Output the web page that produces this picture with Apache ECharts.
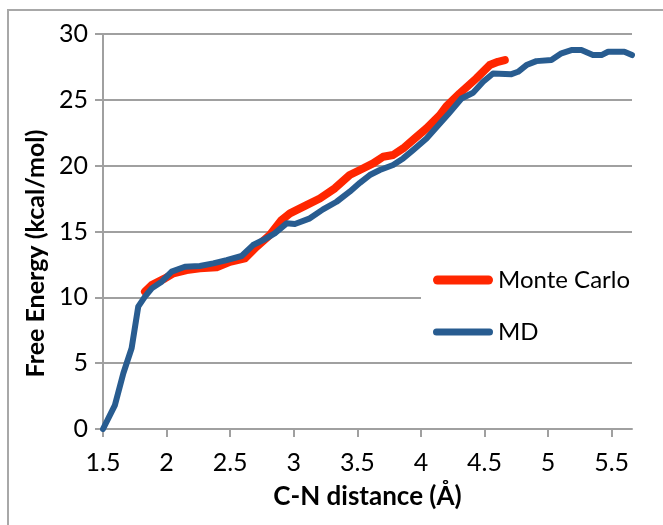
<!DOCTYPE html>
<html>
<head>
<meta charset="utf-8">
<script src="https://cdn.jsdelivr.net/npm/echarts@6/dist/echarts.min.js"></script>
<style>
  html, body { margin: 0; padding: 0; background: #ffffff; }
  #chart { width: 663px; height: 525px; }
</style>
</head>
<body>
<div id="chart"></div>
<script>
// ---- data ----
const xTicks = [1.5, 2, 2.5, 3, 3.5, 4, 4.5, 5, 5.5];
const yTicks = [0, 5, 10, 15, 20, 25, 30];

const mdX = [1.5, 1.594, 1.66, 1.725, 1.777, 1.83, 1.883, 1.961, 2.04, 2.144, 2.262, 2.367, 2.472, 2.59, 2.68, 2.76, 2.85, 2.944, 3.009, 3.127, 3.23, 3.337, 3.44, 3.52, 3.598, 3.677, 3.781, 3.86, 3.938, 4.044, 4.149, 4.214, 4.319, 4.41, 4.489, 4.567, 4.712, 4.764, 4.83, 4.908, 5.026, 5.105, 5.183, 5.262, 5.353, 5.42, 5.472, 5.6, 5.66];
const mdY = [0, 1.82, 4.23, 6.13, 9.29, 10.05, 10.68, 11.19, 11.95, 12.32, 12.38, 12.58, 12.83, 13.14, 13.97, 14.35, 14.86, 15.62, 15.57, 16.0, 16.68, 17.26, 18.02, 18.7, 19.29, 19.67, 20.05, 20.55, 21.18, 22.07, 23.2, 23.9, 25.1, 25.54, 26.37, 27.0, 26.95, 27.13, 27.64, 27.94, 28.02, 28.53, 28.78, 28.78, 28.4, 28.4, 28.65, 28.65, 28.4];

const mcX = [1.83, 1.883, 1.987, 2.053, 2.158, 2.262, 2.393, 2.498, 2.616, 2.708, 2.812, 2.904, 2.97, 3.1, 3.205, 3.323, 3.44, 3.52, 3.624, 3.703, 3.781, 3.86, 3.952, 4.044, 4.149, 4.2, 4.305, 4.436, 4.541, 4.606, 4.66];
const mcY = [10.43, 10.93, 11.44, 11.82, 12.07, 12.2, 12.28, 12.7, 12.96, 13.84, 14.73, 15.87, 16.38, 17.0, 17.51, 18.28, 19.29, 19.67, 20.17, 20.68, 20.81, 21.31, 22.07, 22.83, 23.84, 24.5, 25.49, 26.63, 27.64, 27.89, 28.02];

const seriesNames = ['Monte Carlo', 'MD'];
const xTitle = 'C-N distance (Å)';
const yTitle = 'Free Energy (kcal/mol)';

// ---- build ----
const zip = (xs, ys) => xs.map((x, i) => [x, ys[i]]);
const FONT = 'Lato';
const GRID_C = '#A0A0A0';

const chart = echarts.init(document.getElementById('chart'), null, { renderer: 'canvas' });
chart.setOption({
  animation: false,
  backgroundColor: '#ffffff',
  graphic: [{
    type: 'rect',
    shape: { x: 8, y: 10, width: 720, height: 620 },
    style: { fill: 'none', stroke: '#A8A8A8', lineWidth: 2 },
    silent: true, z: -10
  }],
  grid: { left: 103, top: 34, right: 31, bottom: 96, containLabel: false },
  xAxis: {
    type: 'value',
    min: 1.5, max: 5.66, interval: 0.5,
    name: xTitle, nameLocation: 'middle', nameGap: 55,
    nameTextStyle: { fontFamily: FONT, fontWeight: 'bold', fontSize: 26, color: '#000' },
    axisLine: { show: true, onZero: false, lineStyle: { color: GRID_C, width: 2 } },
    axisTick: { show: true, length: 8, customValues: xTicks, lineStyle: { color: GRID_C, width: 2 } },
    axisLabel: { customValues: xTicks, margin: 21, fontFamily: FONT, fontSize: 25, color: '#000' },
    splitLine: { show: false }
  },
  yAxis: {
    type: 'value',
    min: 0, max: 30, interval: 5,
    name: yTitle, nameLocation: 'middle', nameGap: 50,
    nameTextStyle: { fontFamily: FONT, fontWeight: 'bold', fontSize: 25, color: '#000', padding: [0, 44, 0, 0] },
    axisLine: { show: true, lineStyle: { color: GRID_C, width: 2 } },
    axisTick: { show: true, length: 8, lineStyle: { color: GRID_C, width: 2 } },
    axisLabel: { customValues: yTicks, margin: 15, fontFamily: FONT, fontSize: 25, color: '#000' },
    splitLine: { show: true, lineStyle: { color: GRID_C, width: 2 } }
  },
  legend: {
    orient: 'vertical',
    left: 421, top: 262,
    padding: [6, 20, 6, 12],
    backgroundColor: '#ffffff',
    itemWidth: 60, itemHeight: 9, itemGap: 28,
    textStyle: { fontFamily: FONT, fontSize: 24, color: '#000' },
    data: [
      { name: seriesNames[0], icon: 'path://M4.5,0 L55.5,0 A4.5,4.5 0 0 1 55.5,9 L4.5,9 A4.5,4.5 0 0 1 4.5,0 Z' },
      { name: seriesNames[1], icon: 'path://M3.5,0 L56.5,0 A3.5,3.5 0 0 1 56.5,7 L3.5,7 A3.5,3.5 0 0 1 3.5,0 Z' }
    ]
  },
  series: [
    {
      name: seriesNames[0], type: 'line', data: zip(mcX, mcY),
      showSymbol: false, symbol: 'none',
      color: '#FF2600',
      lineStyle: { color: '#FF2600', width: 8, cap: 'round', join: 'round' },
      itemStyle: { color: '#FF2600' }
    },
    {
      name: seriesNames[1], type: 'line', data: zip(mdX, mdY),
      showSymbol: false, symbol: 'none',
      color: '#285C90',
      lineStyle: { color: '#285C90', width: 6, cap: 'round', join: 'round' },
      itemStyle: { color: '#285C90' }
    }
  ]
});
</script>
</body>
</html>
